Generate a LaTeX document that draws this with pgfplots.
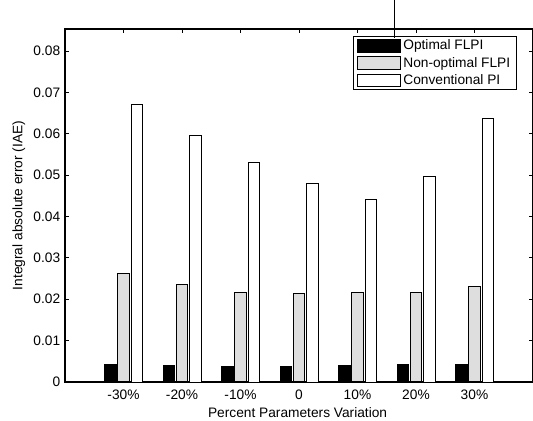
\documentclass[border=0pt]{standalone}
\usepackage{pgfplots}
\pgfplotsset{compat=1.18}
\usepackage{fontspec}
\setmainfont{Liberation Sans}
\definecolor{stipple}{gray}{0.87}
\begin{document}
\fontsize{10.3}{12}\selectfont
\begin{tikzpicture}
\begin{axis}[
  at={(48.75pt,29.25pt)}, anchor=south west,
  width=351pt, height=264.75pt, scale only axis,
  xmin=0, xmax=8, ymin=0, ymax=0.0853,
  scaled y ticks=false,
  xtick={1,2,3,4,5,6,7},
  xticklabels={-30\%,-20\%,-10\%,0,10\%,20\%,30\%},
  ytick={0,0.01,0.02,0.03,0.04,0.05,0.06,0.07,0.08},
  yticklabels={0,0.01,0.02,0.03,0.04,0.05,0.06,0.07,0.08},
  xticklabel style={yshift=-2pt},
  tick align=inside, major tick length=3pt,
  tick style={black, line width=0.6pt},
  axis line style={line width=0.8pt},
  xlabel={Percent Parameters Variation},
  ylabel={Integral absolute error (IAE)},
  xlabel style={at={(ticklabel cs:0.497)}, yshift=1pt},
  ylabel style={yshift=-1pt},
  ytick pos=both, xtick pos=both,
  legend cell align=left,
  legend style={at={(0.615,0.980)}, anchor=north west, draw=black, line width=0.6pt,
    font=\fontsize{10.3}{12}\selectfont, inner xsep=3pt, inner ysep=0.5pt,
    row sep=0pt},
  legend image code/.code={\draw[#1, line width=0.6pt] (0pt,-4.8pt) rectangle (32pt,4.8pt);},
]
\addplot[ybar, bar width=8.6pt, bar shift=-9.75pt, fill=black, draw=black, line width=0.6pt]
  coordinates {(1,0.0043) (2,0.0039) (3,0.0037) (4,0.0037) (5,0.0039) (6,0.0042) (7,0.0043)};
\addplot[ybar, bar width=8.6pt, bar shift=0pt, fill=stipple, draw=black, line width=1pt]
  coordinates {(1,0.0262) (2,0.0235) (3,0.0217) (4,0.0214) (5,0.0216) (6,0.0216) (7,0.0230)};
\addplot[ybar, bar width=8.6pt, bar shift=10pt, fill=white, draw=black, line width=0.7pt]
  coordinates {(1,0.0671) (2,0.0596) (3,0.0530) (4,0.0479) (5,0.0440) (6,0.0496) (7,0.0638)};
\legend{Optimal FLPI, Non-optimal FLPI, Conventional PI}
\end{axis}
\draw[line width=0.6pt] (295.5pt,315.75pt) -- (295.5pt,287pt);
\pgfresetboundingbox
\path[use as bounding box] (0,0) rectangle (399.75pt,315.75pt);
\end{tikzpicture}
\end{document}
